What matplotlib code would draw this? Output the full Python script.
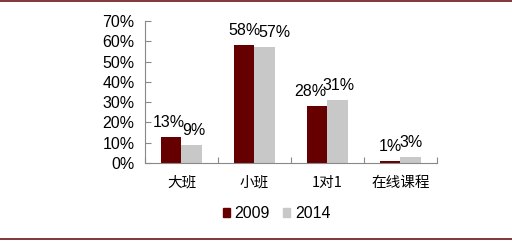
import numpy as np
import matplotlib.pyplot as plt
from matplotlib.lines import Line2D
from matplotlib.patches import Patch

plt.rcParams['font.family'] = ['Liberation Sans', 'Noto Sans CJK SC', 'DejaVu Sans']

categories = ['大班', '小班', '1对1', '在线课程']
v2009 = [13, 58, 28, 1]
v2014 = [9, 57, 31, 3]
series = ['2009', '2014']
colors = ['#660000', '#C8C8C8']

# horizontal nudges (points) for the value labels, as in the source
nudge2009 = [-1.5, 0, -5, 0]
nudge2014 = [1.5, 7, 0.5, 0.5]

fig = plt.figure(figsize=(5.12, 2.43), dpi=100)
ax = fig.add_axes([0.2832, 0.3292, 0.5703, 0.5844])

x = np.arange(len(categories))
w = 0.28
b1 = ax.bar(x - w / 2, v2009, w, color=colors[0])
b2 = ax.bar(x + w / 2, v2014, w, color=colors[1])

for bars, vals, nd in ((b1, v2009, nudge2009), (b2, v2014, nudge2014)):
    for r, v, dx in zip(bars, vals, nd):
        ax.annotate(f'{v}%', (r.get_x() + r.get_width() / 2, v),
                    xytext=(dx, 5), textcoords='offset points',
                    ha='center', va='bottom', fontsize=11.5)

ax.set_xlim(-0.5, len(categories) - 0.5)
ax.set_ylim(0, 70)
ax.set_yticks(range(0, 71, 10))
ax.set_yticklabels([f'{t}%' for t in range(0, 71, 10)], fontsize=11.5)
ax.set_xticks(np.arange(-0.5, len(categories), 1))
ax.set_xticklabels([])
ax.set_xticks(x, minor=True)
ax.set_xticklabels(categories, minor=True, fontsize=10.5,
                   family=['Noto Sans CJK SC', 'DejaVu Sans'])
ax.tick_params(axis='x', which='minor', length=0, pad=9)
ax.tick_params(axis='x', which='major', direction='in', length=4, color='#888888')
ax.tick_params(axis='y', direction='in', length=4, color='#888888', pad=7.5)
for s in ('top', 'right'):
    ax.spines[s].set_visible(False)
for s in ('left', 'bottom'):
    ax.spines[s].set_color('#888888')

handles = [Patch(color=c) for c in colors]
fig.legend(handles, series, loc='center', bbox_to_anchor=(0.54, 0.12), ncol=2,
           frameon=False, fontsize=11.5, handlelength=0.45, handleheight=0.45,
           handletextpad=0.3, columnspacing=0.8)

for yy in (0.996, 0.016):
    fig.add_artist(Line2D([0, 1], [yy, yy], color='#6B1414', lw=1.2))

fig.savefig('out.png', dpi=100)
